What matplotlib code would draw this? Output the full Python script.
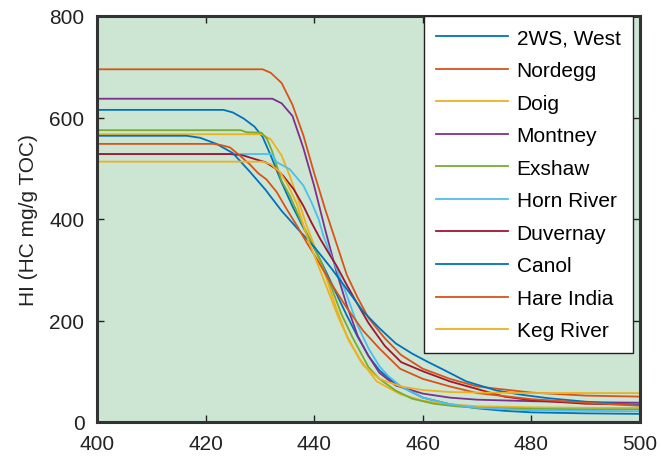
import matplotlib
matplotlib.use('Agg')
from matplotlib import pyplot as plt

# HI decline curves (temperature in deg C, HI in mg HC/g TOC)
names = ['2WS, West', 'Nordegg', 'Doig', 'Montney', 'Exshaw',
         'Horn River', 'Duvernay', 'Canol', 'Hare India', 'Keg River']

t_2ws = [400, 423.3, 425, 427, 429, 430.5, 432, 434, 436, 438, 440, 442, 444, 446, 448, 450, 452, 455, 460, 465, 470, 475, 480, 490, 500]
hi_2ws = [615, 615, 610, 598, 582, 562, 525, 472, 425, 383, 343, 300, 255, 210, 168, 130, 102, 75, 48, 35, 27, 22, 19, 17, 16]

t_nordegg = [400, 430.5, 432, 434, 436, 438, 440, 442, 444, 446, 448, 450, 453, 456, 460, 465, 470, 480, 490, 500]
hi_nordegg = [695, 695, 688, 668, 625, 565, 490, 420, 355, 290, 245, 205, 165, 132, 105, 85, 70, 58, 52, 50]

t_doig = [400, 430.3, 432, 434, 435.5, 437, 438.5, 440.5, 442.3, 444.1, 446, 448.4, 451.5, 455.8, 460, 465, 470, 480, 490, 500]
hi_doig = [567, 567, 557, 525, 485, 440, 390, 334, 282, 223, 170, 124, 80, 55, 42, 35, 31, 29, 28, 28]

t_montney = [400, 432.3, 434, 436, 438, 440, 442, 444, 446, 448, 450, 452, 455, 460, 465, 470, 480, 490, 500]
hi_montney = [637, 637, 628, 603, 540, 465, 380, 300, 230, 170, 130, 97, 72, 56, 48, 44, 41, 39, 38]

t_exshaw = [400, 426.5, 427.5, 430.3, 431.3, 432.2, 433.1, 434, 435.5, 437.4, 439.2, 441, 443, 445, 447, 450, 452, 455, 458, 462, 466, 470, 480, 490, 500]
hi_exshaw = [575, 575, 571, 570, 558, 535, 505, 475, 446, 400, 360, 322, 270, 213, 168, 108, 85, 62, 46, 36, 31, 28, 26, 25, 25]

t_horn = [400, 432.2, 433.1, 435.5, 438, 439.5, 440.8, 441.7, 442.6, 444, 446, 448, 450, 452, 453.6, 456, 460, 465, 470, 480, 490, 500]
hi_horn = [528, 528, 512, 498, 466, 433, 400, 367, 341, 305, 250, 190, 145, 110, 91, 70, 48, 35, 28, 23, 22, 21]

t_duvernay = [400, 424.5, 427, 429.1, 431, 432.8, 434.3, 436.2, 438, 439.5, 441.1, 442.6, 444.1, 446, 448, 450, 453, 456, 460, 465, 470, 475, 480, 490, 500]
hi_duvernay = [528, 528, 525, 518, 512, 500, 485, 459, 426, 393, 361, 334, 308, 270, 232, 195, 150, 118, 100, 80, 65, 50, 43, 36, 34]

t_canol = [400, 416.5, 419, 422, 425, 428, 431, 434, 437, 440, 443, 446, 449, 452, 455, 458, 461, 464, 468, 473.6, 478, 483, 490, 500]
hi_canol = [564, 564, 560, 548, 530, 495, 458, 416, 380, 345, 305, 262, 218, 185, 155, 135, 118, 102, 80, 62, 54, 47, 40, 33]

t_hare = [400, 421.4, 422.7, 424.5, 426.3, 428.2, 429.7, 431.2, 433.1, 434.9, 436.8, 438.6, 440.5, 443, 446, 449, 452, 455.8, 460, 465, 470, 480, 490, 500]
hi_hare = [548, 548, 546, 541, 525, 507, 490, 478, 453, 420, 387, 354, 321, 275, 225, 180, 145, 105, 85, 70, 57, 45, 38, 32]

t_keg = [400, 430.5, 432, 433.7, 435, 436.8, 438.6, 440.5, 442.5, 444.5, 446.5, 449, 452, 456, 460, 465, 470, 480, 490, 500]
hi_keg = [513, 513, 508, 492, 470, 430, 367, 315, 260, 205, 158, 112, 85, 70, 63, 59, 58, 57, 57, 57]

temps = [t_2ws, t_nordegg, t_doig, t_montney, t_exshaw, t_horn, t_duvernay, t_canol, t_hare, t_keg]
his = [hi_2ws, hi_nordegg, hi_doig, hi_montney, hi_exshaw, hi_horn, hi_duvernay, hi_canol, hi_hare, hi_keg]

# MATLAB default colour order (it wraps after 7)
colors = ['#0072BD', '#D95319', '#EDB120', '#7E2F8E', '#77AC30', '#4DBEEE', '#A2142F']

plt.rcParams['font.family'] = ['Liberation Sans', 'DejaVu Sans']
plt.rcParams['font.size'] = 15

fig = plt.figure(figsize=(6.61, 4.64), dpi=100)
ax = fig.add_axes([97/661, 41/464, 543/661, 406/464])
ax.set_facecolor('#cde6d3')

for i, name in enumerate(names):
    ax.plot(temps[i], his[i], color=colors[i % len(colors)], lw=1.3, label=name)

ax.set_xlim(400, 500)
ax.set_ylim(0, 800)
ax.set_xticks([400, 420, 440, 460, 480, 500])
ax.set_yticks([0, 200, 400, 600, 800])
ax.tick_params(direction='in', length=5, width=1, top=True, right=True,
               pad=9, colors='#222222', labelsize=15)
for sp in ax.spines.values():
    sp.set_linewidth(2.2)
    sp.set_color('#333333')

ax.set_ylabel('HI (HC mg/g TOC)', fontsize=15, color='#222222', labelpad=8)

leg = ax.legend(loc='upper right', bbox_to_anchor=(536/543, 1.0), borderaxespad=0,
                fontsize=15, handlelength=3.45, handletextpad=0.4, labelspacing=0.65,
                borderpad=0.6, fancybox=False, framealpha=1, edgecolor='#222222')
leg.get_frame().set_linewidth(1.0)

fig.savefig('out.png', dpi=100)
